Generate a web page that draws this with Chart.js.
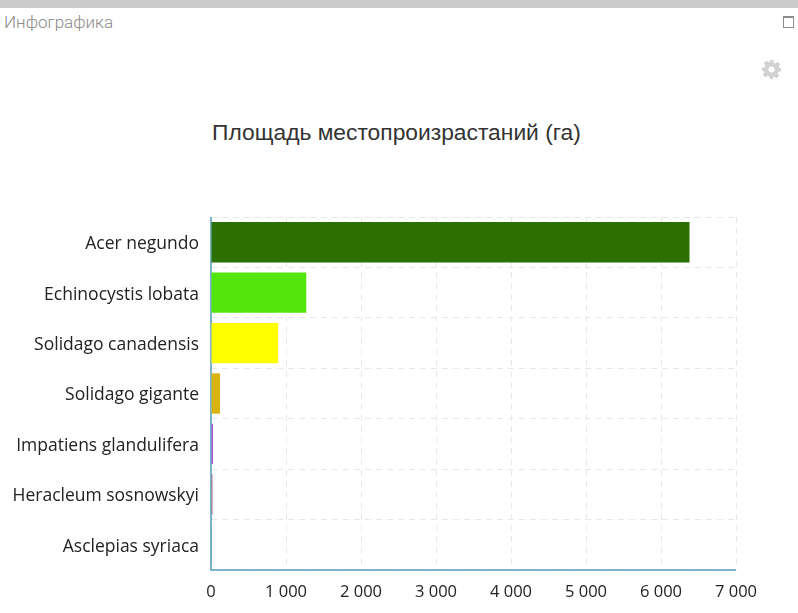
<!DOCTYPE html>
<html>
<head>
<meta charset="utf-8">
<title>Инфографика</title>
<script src="https://cdn.jsdelivr.net/npm/chart.js@4/dist/chart.umd.min.js"></script>
<style>
    html, body { margin: 0; padding: 0; background: #fff; overflow: hidden; }
    #page { position: relative; width: 798px; height: 613px; }
    #topbar { position: absolute; left: 0; top: 0; width: 798px; height: 8px; background: #cbcbcb; }
    #caption { position: absolute; left: 4px; top: 12px; font: 17px "Roboto", sans-serif; font-weight: 300; color: #8a8a8a; }
    #maximize { position: absolute; left: 783px; top: 16px; width: 9px; height: 9px; border: 1px solid #8c8c8c; border-top-width: 2px; }
    #gear { position: absolute; left: 761px; top: 59px; width: 21px; height: 21px; }
    #chartTitle { position: absolute; left: 0; top: 119px; width: 793px; text-align: center; font: 22.8px "Liberation Sans", sans-serif; color: #333; }
    #chartBox { position: absolute; left: 0; top: 0; width: 798px; height: 613px; }
</style>
</head>
<body>
<div id="page">
    <div id="topbar"></div>
    <div id="caption">Инфографика</div>
    <div id="maximize"></div>
    <svg id="gear" viewBox="0 0 24 24"><path fill="#d2d2d2" fill-rule="evenodd" d="M10 1h4l.6 3.2 1.9.8 2.7-1.8 2.8 2.8-1.8 2.7.8 1.9L23 10v4l-3.2.6-.8 1.9 1.8 2.7-2.8 2.8-2.7-1.8-1.9.8L14 23h-4l-.6-3.2-1.9-.8-2.7 1.8-2.8-2.8 1.8-2.7-.8-1.9L1 14v-4l3.2-.6.8-1.9-1.8-2.7 2.8-2.8 2.7 1.8 1.9-.8zM12 8.5a3.5 3.5 0 1 0 0 7 3.5 3.5 0 0 0 0-7z"/></svg>
    <div id="chartTitle">Площадь местопроизрастаний (га)</div>
    <div id="chartBox"><canvas id="areaChart"></canvas></div>
</div>
<script>
const categories = ['Acer negundo', 'Echinocystis lobata', 'Solidago canadensis', 'Solidago gigante',
    'Impatiens glandulifera', 'Heracleum sosnowskyi', 'Asclepias syriaca'];
const areaValues = [6380, 1270, 895, 120, 27, 20, 3];
const barColors = ['#2b7000', '#52e60c', '#ffff00', '#d9b411', '#a455c9', '#a86c82', '#3f9fc0'];
const tickStep = 1000;
const axisMax = 7000;

const axisColor = '#4f9fbe';
const gridColor = '#e8e8e8';

new Chart(document.getElementById('areaChart'), {
    type: 'bar',
    data: {
        labels: categories,
        datasets: [{
            data: areaValues,
            backgroundColor: barColors,
            categoryPercentage: 0.8,
            barPercentage: 1
        }]
    },
    options: {
        indexAxis: 'y',
        responsive: true,
        maintainAspectRatio: false,
        animation: false,
        layout: { padding: { top: 217, right: 62, bottom: 12, left: 0 } },
        plugins: {
            legend: { display: false },
            tooltip: { enabled: false }
        },
        scales: {
            x: {
                min: 0,
                max: axisMax,
                afterFit: axis => { axis.height = 31; },
                ticks: {
                    stepSize: tickStep,
                    color: '#222222',
                    padding: 12,
                    maxRotation: 0,
                    font: { family: 'Open Sans', size: 16.5 },
                    callback: value => String(value).replace(/\B(?=(\d{3})+$)/g, ' ')
                },
                grid: { color: gridColor, drawTicks: false },
                border: { color: axisColor, dash: [6, 5], display: false }
            },
            y: {
                afterFit: axis => { axis.width = 211; },
                ticks: {
                    color: '#222222',
                    padding: 12,
                    labelOffset: 2,
                    font: { family: 'Open Sans', size: 17.5 }
                },
                grid: { color: gridColor, drawTicks: false, offset: true },
                border: { color: axisColor, dash: [6, 5], display: false }
            }
        }
    },
    plugins: [{
        // solid left and bottom axis lines, under the bars
        id: 'axisLines',
        beforeDatasetsDraw(chart) {
            const { ctx, chartArea: a } = chart;
            ctx.save();
            ctx.strokeStyle = axisColor;
            ctx.lineWidth = 1.5;
            ctx.beginPath();
            ctx.moveTo(a.left, a.top);
            ctx.lineTo(a.left, a.bottom);
            ctx.lineTo(a.right, a.bottom);
            ctx.stroke();
            ctx.restore();
        }
    }]
});
</script>
</body>
</html>
